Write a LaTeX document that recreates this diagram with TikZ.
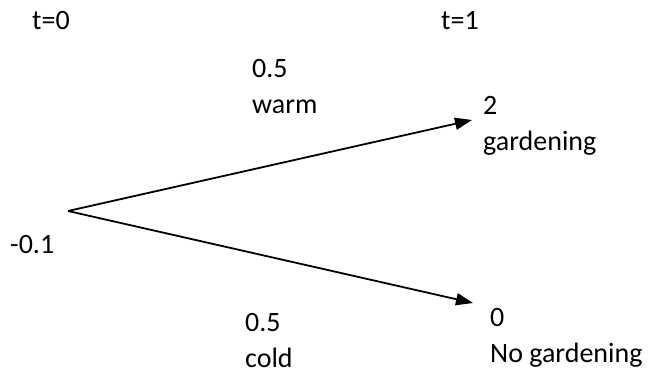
\documentclass[tikz,border=0pt]{standalone}
\usepackage{fontspec}
\setmainfont{Carlito}
\usepackage{tikz}
\usetikzlibrary{arrows.meta}

\tikzset{
  lbl/.style={anchor=base west, inner sep=0pt, align=left,
              font=\fontsize{28}{36}\selectfont},
  branch/.style={line width=1.8pt, -{Triangle[length=17pt,width=12pt]}}
}

\begin{document}
\begin{tikzpicture}[x=1pt, y=-1pt]
  \useasboundingbox (0,0) rectangle (653,372);

  % time stamps
  \node[lbl] (t0) at (32,29) {t=0};
  \node[lbl] (t1) at (441,29) {t=1};

  % decision point and its two branches
  \coordinate (root) at (68,211);
  \coordinate (upTip) at (472,120);
  \coordinate (downTip) at (473,303);
  \node[lbl] (cost) at (10,253) {-0.1};

  \draw[branch] (root) -- (upTip);
  \draw[branch] (root) -- (downTip);

  % branch probabilities (base = last line)
  \node[lbl] (warm) at (252,113) {0.5\\warm};
  \node[lbl] (cold) at (245,367) {0.5\\cold};

  % payoffs
  \node[lbl] (garden) at (483,150) {2\\gardening};
  \node[lbl] (noGarden) at (490,362) {0\\No gardening};
\end{tikzpicture}
\end{document}
